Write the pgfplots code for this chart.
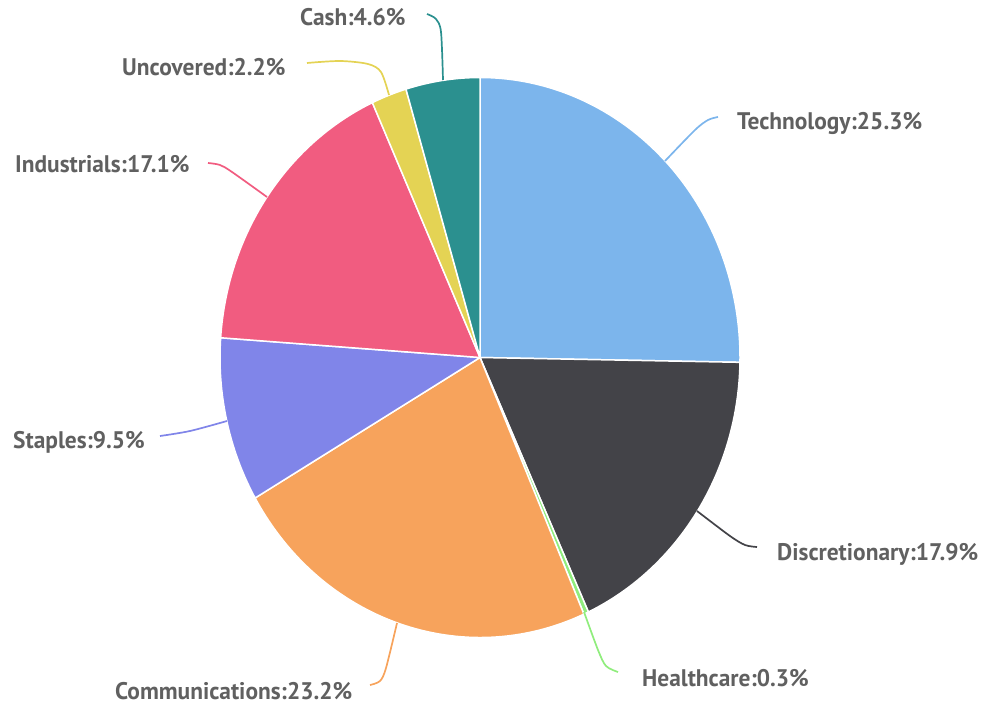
\documentclass[border=0pt]{standalone}
\usepackage{pgfplots}
\pgfplotsset{compat=1.18}
\usepackage{pgfplotstable}
\usepackage{fontspec}
\setmainfont{PT Sans}

\definecolor{c0}{HTML}{7CB5EC}
\definecolor{c1}{HTML}{434348}
\definecolor{c2}{HTML}{90ED7D}
\definecolor{c3}{HTML}{F7A35C}
\definecolor{c4}{HTML}{8085E9}
\definecolor{c5}{HTML}{F15C80}
\definecolor{c6}{HTML}{E4D354}
\definecolor{c7}{HTML}{2B908F}
\definecolor{lbl}{HTML}{606060}

\tikzset{lab/.style={anchor=base west, inner sep=0pt, text=lbl, xscale=0.975,
  font=\fontsize{24}{28}\selectfont\bfseries}}

% sector shares, clockwise from 12 o'clock
\pgfplotstableread{
name           pct
Technology     25.3
Discretionary  17.9
Healthcare     0.3
Communications 23.2
Staples        9.5
Industrials    17.1
Uncovered      2.2
Cash           4.6
}\piedata

\begin{document}
\begin{tikzpicture}
% total, then start/end angles of each slice
\def\total{0}
\pgfplotsforeachungrouped \i in {0,...,7}{%
  \pgfplotstablegetelem{\i}{pct}\of\piedata
  \pgfmathsetmacro\total{\total+\pgfplotsretval}%
}
\def\cum{0}
\pgfplotsforeachungrouped \i in {0,...,7}{%
  \pgfplotstablegetelem{\i}{pct}\of\piedata
  \pgfmathsetmacro\a{90-3.6*(\cum/\total)*100}%
  \pgfmathsetmacro\cum{\cum+\pgfplotsretval}%
  \pgfmathsetmacro\b{90-3.6*(\cum/\total)*100}%
  \expandafter\xdef\csname sa\i\endcsname{\a}%
  \expandafter\xdef\csname sb\i\endcsname{\b}%
}
\begin{axis}[
  x=1pt, y=1pt,
  xmin=0, xmax=987, ymin=0, ymax=708,
  y dir=reverse,
  hide axis, clip=false,
]
  \path (axis cs:0,0) rectangle (axis cs:987,708);
  \pgfplotsinvokeforeach{0,...,7}{
    \fill[c#1, draw=white, line width=1.5pt, line join=round]
      (axis cs:480,357.5) -- ++(\csname sa#1\endcsname:260pt and 280pt)
      arc[start angle=\csname sa#1\endcsname, end angle=\csname sb#1\endcsname,
          x radius=260pt, y radius=280pt] -- cycle;
  }

  % connectors
  \addplot[c0, line width=1.7pt, smooth, tension=0.5] coordinates {(665,161) (695,130) (708,120) (718,117)};
  \addplot[c1, line width=1.7pt, smooth, tension=0.5] coordinates {(697,511) (730,536) (745,545) (757,547)};
  \addplot[c2, line width=1.7pt, smooth, tension=0.5] coordinates {(584,612) (598,650) (606,666) (618,672)};
  \addplot[c3, line width=1.7pt, smooth, tension=0.5] coordinates {(397,623) (386,668) (380,681) (370,685)};
  \addplot[c4, line width=1.7pt, smooth, tension=0.5] coordinates {(227,421) (190,431) (160,436)};
  \addplot[c5, line width=1.7pt, smooth, tension=0.5] coordinates {(267,197) (232,172) (220,165) (208,163)};
  \addplot[c6, line width=1.7pt, smooth, tension=0.5] coordinates {(389,95) (381,72) (368,64) (340,61) (307,63)};
  \addplot[c7, line width=1.7pt, smooth, tension=0.5] coordinates {(443,80) (441,32) (436,19) (427,14)};

  % labels
  \node[lab] at (axis cs:737,130) {Technology:25.3\%};
  \node[lab] at (axis cs:777,560) {Discretionary:17.9\%};
  \node[lab] at (axis cs:642,686) {Healthcare:0.3\%};
  \node[lab] at (axis cs:115,699) {Communications:23.2\%};
  \node[lab] at (axis cs:13,448) {Staples:9.5\%};
  \node[lab] at (axis cs:15,173) {Industrials:17.1\%};
  \node[lab] at (axis cs:122,76) {Uncovered:2.2\%};
  \node[lab] at (axis cs:300,26) {Cash:4.6\%};
\end{axis}
\end{tikzpicture}
\end{document}
